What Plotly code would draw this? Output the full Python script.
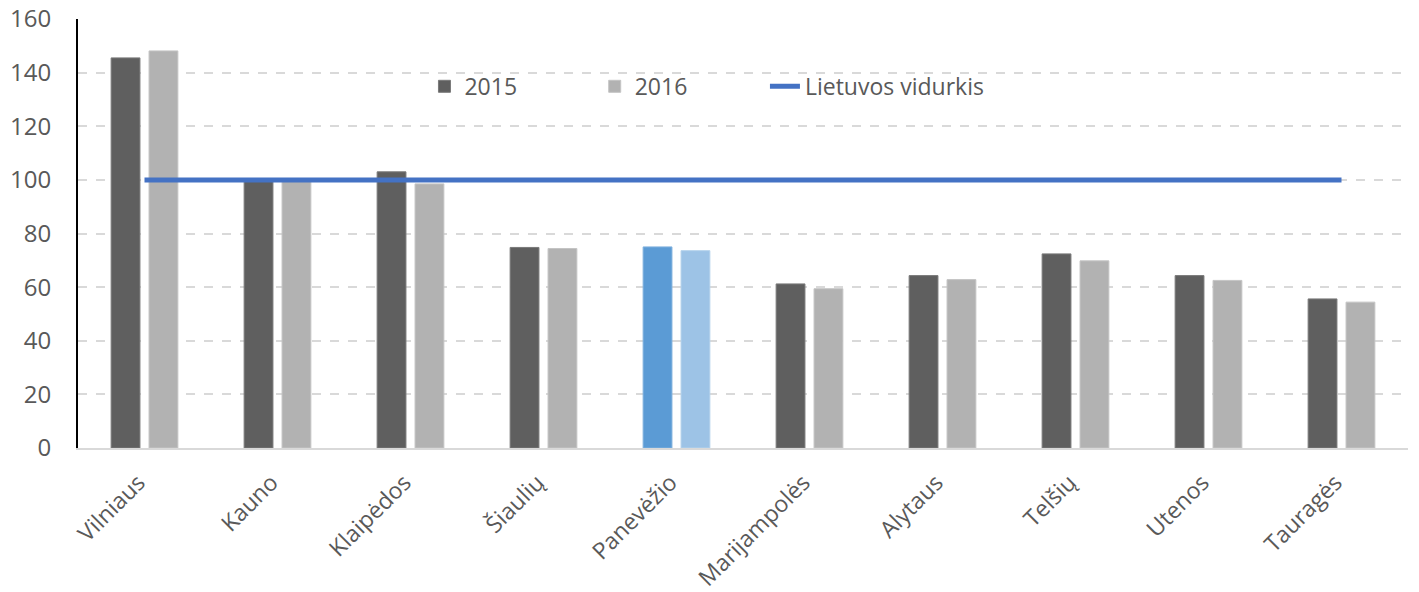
import plotly.graph_objects as go

categories = ["Vilniaus", "Kauno", "Klaipėdos", "Šiaulių", "Panevėžio",
              "Marijampolės", "Alytaus", "Telšių", "Utenos", "Tauragės"]
values_2015 = [145.5, 99.6, 103.0, 74.8, 75.0, 61.2, 64.3, 72.4, 64.3, 55.6]
values_2016 = [148.1, 99.8, 98.5, 74.4, 73.6, 59.4, 62.8, 69.8, 62.5, 54.4]
average = [100] * len(categories)
y_ticks = [0, 20, 40, 60, 80, 100, 120, 140, 160]

highlight = "Panevėžio"
c15 = ["#5B9BD5" if c == highlight else "#5F5F5F" for c in categories]
c16 = ["#9DC3E6" if c == highlight else "#B2B2B2" for c in categories]
o15 = ["#7FB0DE" if c == highlight else "#7A7A7A" for c in categories]
o16 = ["#B5D2EC" if c == highlight else "#C4C4C4" for c in categories]

font = "Open Sans"
fig = go.Figure()
fig.add_trace(go.Bar(x=categories, y=values_2015, name="2015", legend="legend",
                     marker=dict(color=c15, line=dict(color=o15, width=1))))
fig.add_trace(go.Bar(x=categories, y=values_2016, name="2016", legend="legend2",
                     marker=dict(color=c16, line=dict(color=o16, width=1))))
fig.add_trace(go.Scatter(x=categories, y=average, name="Lietuvos vidurkis", legend="legend3",
                         mode="lines", line=dict(color="#4472C4", width=5)))

leg = dict(orientation="h", y=0.843, xanchor="left", yanchor="middle",
           font=dict(size=23, color="#595959"), bgcolor="rgba(0,0,0,0)")

fig.update_layout(
    width=1419, height=592,
    margin=dict(l=70, r=19, t=11, b=152),
    paper_bgcolor="white", plot_bgcolor="white",
    barmode="group", bargap=0.43, bargroupgap=0.24,
    font=dict(family=font, color="#595959"),
    showlegend=True,
    legend=dict(leg, x=0.2605),
    legend2=dict(leg, x=0.3885),
    legend3=dict(leg, x=0.5165),
    xaxis=dict(tickangle=-45, tickfont=dict(size=23, color="#595959"),
               showline=True, linecolor="#D9D9D9", linewidth=2,
               showgrid=False, ticks="", automargin=False,
               ticklabelstandoff=10, ticklabelshift=-6, ticklabeloverflow="allow"),
    yaxis=dict(range=[0, 160], tickvals=y_ticks, tickfont=dict(size=24, color="#595959"),
               showgrid=True, gridcolor="#D9D9D9", griddash="dash", gridwidth=2,
               showline=True, linecolor="black", linewidth=2, zeroline=False,
               ticks="", ticklabelstandoff=20, automargin=False,
               ticklabeloverflow="allow"),
)

fig.write_html("out.html")
